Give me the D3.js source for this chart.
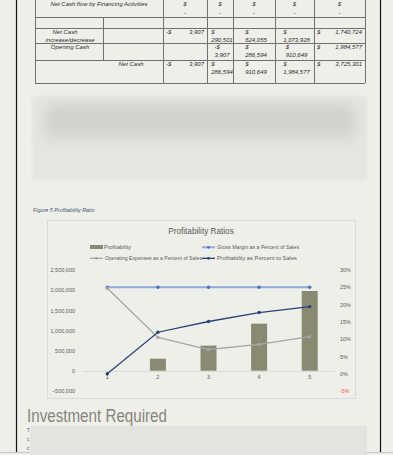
<!DOCTYPE html>
<html>
<head>
<meta charset="utf-8">
<script src="https://cdn.jsdelivr.net/npm/d3@7"></script>
<style>
  body { margin: 0; background: #efefea; }
  svg { display: block; }
  text { font-family: "Liberation Sans", Arial, sans-serif; }
</style>
</head>
<body>
<script>
// chart data
const categories = [1, 2, 3, 4, 5]
const profitability = [0, 300000, 625000, 1170000, 1980000]
const grossMarginPct = [25, 25, 25, 25, 25]
const opexPct = [24.7, 10.5, 7.0, 8.5, 10.7]
const profitPct = [0, 12.0, 15.1, 17.7, 19.4]
const leftTicks = [-500000, 0, 500000, 1000000, 1500000, 2000000, 2500000]
const rightTicks = [-5, 0, 5, 10, 15, 20, 25, 30]

// table data (cash flow excerpt)
const rowLabels = ['Net Cash flow by Financing Activities', '', 'Net Cash|increase/decrease', 'Opening Cash', 'Net Cash']
const financing = ['$|-', '$|-', '$|-', '$|-', '$|-']
const netIncrease = ['-$|3,907', '$|290,501', '$|624,055', '$|1,073,928', '$|1,740,724']
const openingCash = ['', '-$|3,907', '$|286,594', '$|910,649', '$|1,984,577']
const netCash = ['-$|3,907', '$|286,594', '$|910,649', '$|1,984,577', '$|3,725,301']

const W = 393, H = 455
const svg = d3.select('body').append('svg').attr('width', W).attr('height', H)

const defs = svg.append('defs')
defs.append('filter').attr('id', 'blur').attr('x', '-20%').attr('y', '-50%').attr('width', '140%').attr('height', '200%')
    .append('feGaussianBlur').attr('stdDeviation', 7)
defs.append('filter').attr('id', 'soft')
    .append('feGaussianBlur').attr('stdDeviation', 1.5)

// page frame
svg.append('rect').attr('width', W).attr('height', H).attr('fill', '#efefea')
svg.append('line').attr('x1', 16.5).attr('x2', 16.5).attr('y1', 0).attr('y2', 452).attr('stroke', '#111').attr('stroke-width', 1.2)
svg.append('line').attr('x1', 380.5).attr('x2', 380.5).attr('y1', 0).attr('y2', 452).attr('stroke', '#111').attr('stroke-width', 1.2)
svg.append('line').attr('x1', 0).attr('x2', W).attr('y1', 452.5).attr('y2', 452.5).attr('stroke', '#c9c9c6')

// ---------- table ----------
const tbl = svg.append('g')
const colX = [35, 103, 163, 207, 233, 275, 314, 365]
const rowY = [-2, 17, 28, 43, 60, 83]
const lineCol = '#707070'
rowY.slice(1).forEach(y => {
    tbl.append('line').attr('x1', 35).attr('x2', 365).attr('y1', y + 0.5).attr('y2', y + 0.5).attr('stroke', lineCol)
})
colX.forEach((x, i) => {
    let y1 = -2, y2 = 83
    if (i == 1) { y1 = 17; y2 = 60 }
    tbl.append('line').attr('x1', x + 0.5).attr('x2', x + 0.5).attr('y1', y1).attr('y2', y2).attr('stroke', lineCol)
})

function tText(x, y, s, anchor) {
    return tbl.append('text').attr('x', x).attr('y', y).text(s)
        .attr('font-size', 6).attr('font-style', 'italic').attr('fill', '#2b2b2b')
        .attr('text-anchor', anchor || 'middle').attr('dominant-baseline', 'middle')
}

// row labels
tText(99, 4, rowLabels[0]).attr('textLength', 97).attr('lengthAdjust', 'spacingAndGlyphs')
tText(65, 32, 'Net Cash')
tText(70, 40, 'increase/decrease')
tText(70, 47.5, rowLabels[3])
tText(131, 64, rowLabels[4])

const rowsData = [[financing, 4, 'stack'], [netIncrease, 32, 'wrap'], [openingCash, 47.5, 'wrap'], [netCash, 64, 'wrap']]
rowsData.forEach(([vals, y0, mode]) => {
    vals.forEach((v, i) => {
        if (!v) return
        const [cur, num] = v.split('|')
        const left = colX[i + 2], right = colX[i + 3]
        const cx = (left + right) / 2
        if (mode == 'stack') {
            tText(cx, y0, cur)
            tText(cx, y0 + 9, num)
        } else if (i == 0 || i == 4) {
            tText(left + 3, y0, cur, 'start')
            tText(right - 3, y0, num, 'end')
        } else {
            const t = tText(cx + 2, y0 + 8, num)
            const w = t.node().getComputedTextLength()
            tText(cx + 2 - w / 2, y0, cur, 'start')
        }
    })
})

// blurred block
svg.append('rect').attr('x', 32).attr('y', 96).attr('width', 335).attr('height', 84).attr('fill', '#e6e6e1').attr('filter', 'url(#soft)')
svg.append('rect').attr('x', 45).attr('y', 104).attr('width', 310).attr('height', 34).attr('fill', '#d2d2cd').attr('filter', 'url(#blur)')

// caption
svg.append('text').attr('x', 33).attr('y', 211.5).text('Figure 5 Profitability Ratio')
    .attr('font-size', 5.4).attr('font-style', 'italic').attr('fill', '#44546a')

// ---------- chart ----------
svg.append('rect').attr('x', 47.5).attr('y', 220.5).attr('width', 308).attr('height', 178)
    .attr('fill', 'none').attr('stroke', '#d9d9d9')

svg.append('text').attr('x', 201).attr('y', 234).attr('text-anchor', 'middle')
    .attr('font-size', 8.2).attr('fill', '#595959').text('Profitability Ratios')

const x = d3.scaleBand().domain(categories).range([82, 335])
const yL = d3.scaleLinear().domain([-500000, 2500000]).range([391, 270])
const yR = d3.scaleLinear().domain([-5, 30]).range([391, 270])
const cxOf = d => x(d) + x.bandwidth() / 2
const axisFont = '"Liberation Sans", Arial, sans-serif'

// left axis
const axL = svg.append('g').attr('transform', 'translate(77,0)')
    .call(d3.axisLeft(yL).tickValues(leftTicks).tickSize(0).tickPadding(2).tickFormat(d3.format(',')))
axL.select('.domain').remove()
axL.selectAll('text').attr('font-size', 5.5).attr('fill', '#595959').attr('font-family', axisFont)

// right axis
const axR = svg.append('g').attr('transform', 'translate(338,0)')
    .call(d3.axisRight(yR).tickValues(rightTicks).tickSize(0).tickPadding(2).tickFormat(d => d + '%'))
axR.select('.domain').remove()
axR.selectAll('text').attr('font-size', 5.3).attr('font-family', axisFont)
    .attr('fill', d => d < 0 ? '#ff4d4d' : '#595959')

// bars
svg.append('g').selectAll('rect').data(categories).join('rect')
    .attr('x', d => cxOf(d) - 8)
    .attr('width', 16)
    .attr('y', (d, i) => yL(Math.max(0, profitability[i])))
    .attr('height', (d, i) => Math.abs(yL(profitability[i]) - yL(0)))
    .attr('fill', '#8a8a72')

// category axis
const axB = svg.append('g').attr('transform', `translate(0,${yL(0)})`)
    .call(d3.axisBottom(x).tickSize(0).tickPadding(4))
axB.select('.domain').attr('stroke', '#d9d9d9')
axB.selectAll('text').attr('font-size', 5.5).attr('fill', '#595959').attr('font-family', axisFont)

// lines
const series = [
    { name: 'Gross Margin as a Percent of Sales', vals: grossMarginPct, line: '#8eaadb', dot: '#4472c4', w: 2 },
    { name: 'Operating Expenses as a Percent of Sales', vals: opexPct, line: '#a5a5a5', dot: '#a5a5a5', w: 1.3 },
    { name: 'Profitability as Percent to Sales', vals: profitPct, line: '#264478', dot: '#264478', w: 1.3 }
]
const lineGen = d3.line().x(d => cxOf(d[0])).y(d => yR(d[1]))
series.forEach(s => {
    const pts = categories.map((c, i) => [c, s.vals[i]])
    svg.append('path').datum(pts).attr('d', lineGen).attr('fill', 'none')
        .attr('stroke', s.line).attr('stroke-width', s.w)
    svg.append('g').selectAll('circle').data(pts).join('circle')
        .attr('cx', d => cxOf(d[0])).attr('cy', d => yR(d[1])).attr('r', 1.7).attr('fill', s.dot)
})

// legend
const lg = svg.append('g')
function legText(xx, yy, s, len) {
    lg.append('text').attr('x', xx).attr('y', yy).attr('dominant-baseline', 'middle')
        .attr('font-size', 5.5).attr('fill', '#595959').text(s)
        .attr('textLength', len).attr('lengthAdjust', 'spacingAndGlyphs')
}
lg.append('rect').attr('x', 90).attr('y', 245).attr('width', 13).attr('height', 4).attr('fill', '#8a8a72')
legText(104, 247.3, 'Profitability', 27)
const legPos = [[202, 247.3], [90, 258.3], [202, 258.3]]
const legLen = [82, 97, 80]
series.forEach((s, i) => {
    const [lx, ly] = legPos[i]
    lg.append('line').attr('x1', lx).attr('x2', lx + 13).attr('y1', ly).attr('y2', ly)
        .attr('stroke', s.line).attr('stroke-width', s.w)
    lg.append('circle').attr('cx', lx + 6.5).attr('cy', ly).attr('r', 1.4).attr('fill', s.dot)
    legText(lx + 15, ly, s.name, legLen[i])
})

// heading below
svg.append('text').attr('x', 27).attr('y', 421.5).text('Investment Required')
    .attr('font-size', 17.5).attr('fill', '#85857a').attr('textLength', 140).attr('lengthAdjust', 'spacingAndGlyphs')

// faint paragraph starts + blurred text block
;['T', 'c', 'c'].forEach((s, i) => {
    svg.append('text').attr('x', 27).attr('y', 432 + i * 9).text(s).attr('font-size', 4.5).attr('fill', '#555')
})
svg.append('rect').attr('x', 30).attr('y', 426).attr('width', 337).attr('height', 29).attr('fill', '#e3e3df')
</script>
</body>
</html>
